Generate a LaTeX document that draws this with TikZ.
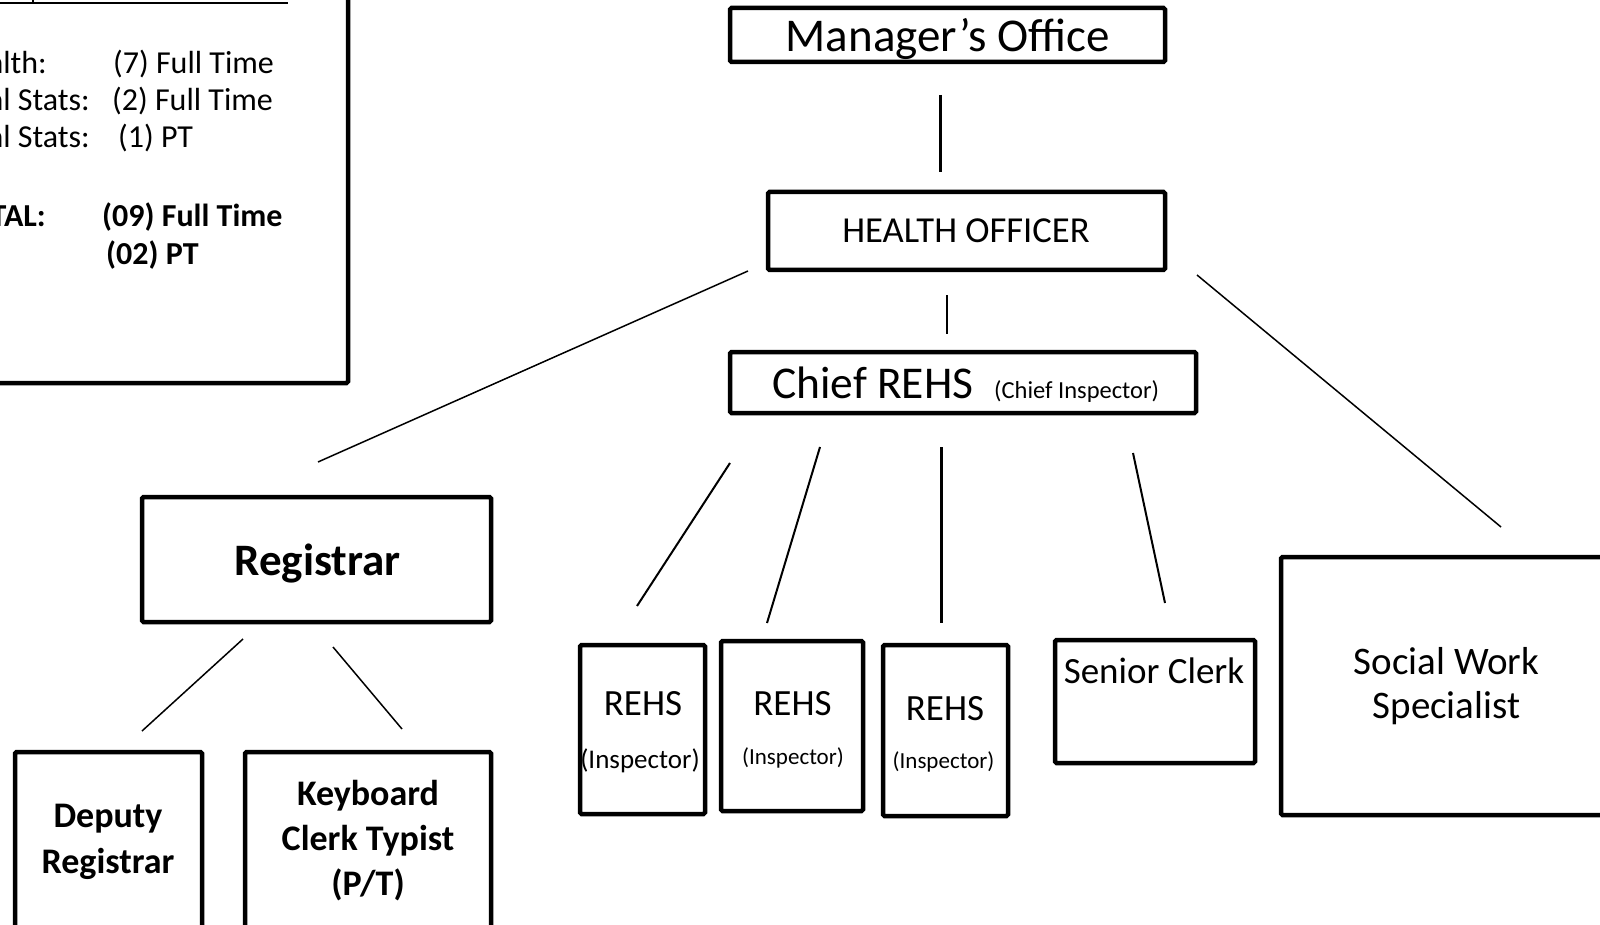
\documentclass[tikz,border=0pt]{standalone}
\usepackage{fontspec}
\setmainfont{Carlito}
\newcommand{\fsz}[1]{\fontsize{#1}{#1}\selectfont}
\begin{document}
\begin{tikzpicture}[x=1pt,y=-1pt,
  box/.style={draw, line width=4.5pt, rounded corners=1.5pt, inner sep=0pt},
  lbl/.style={anchor=base, inner sep=0pt},
  lblw/.style={anchor=base west, inner sep=0pt},
  lble/.style={anchor=base east, inner sep=0pt},
  thinconn/.style={line width=1.5pt},
  conn/.style={line width=2pt},
  thickconn/.style={line width=3pt}]
\useasboundingbox (0,0) rectangle (1600,925);
\clip (0,0) rectangle (1600,925);

% staffing summary panel
\node[box, minimum width=368pt, minimum height=403pt] (staff) at (164,181.5) {};
\coordinate (ul1) at (-10,3); \coordinate (ul2) at (288,3);
\coordinate (tk1) at (33,-2); \coordinate (tk2) at (33,4);
\draw[line width=2pt] (ul1) -- (ul2);
\draw[line width=1.5pt] (tk1) -- (tk2);
\node[lble, font=\fsz{32}] (s1a) at (47,74) {Health:};
\node[lblw, font=\fsz{32}] (s1b) at (113,74) {(7) Full Time};
\node[lble, font=\fsz{32}] (s2a) at (90,111) {Vital Stats:};
\node[lblw, font=\fsz{32}] (s2b) at (112,111) {(2) Full Time};
\node[lble, font=\fsz{32}] (s3a) at (90,148) {Vital Stats:};
\node[lblw, font=\fsz{32}] (s3b) at (118,148) {(1) PT};
\node[lble, font=\fsz{32}\bfseries] (s4a) at (46,227) {TOTAL:};
\node[lblw, font=\fsz{32}\bfseries] (s4b) at (102,227) {(09) Full Time};
\node[lblw, font=\fsz{32}\bfseries] (s5b) at (106,265) {(02) PT};

% management chain
\node[box, minimum width=435pt, minimum height=54pt] (man) at (947.5,35) {};
\node[lbl, font=\fsz{47}] (mant) at (947.5,52) {Manager’s Office};
\node[box, minimum width=397pt, minimum height=78pt] (health) at (966.5,231) {};
\node[lbl, font=\fsz{36.6}] (healtht) at (966,243) {HEALTH OFFICER};
\node[box, minimum width=466pt, minimum height=61pt] (chief) at (963,382.5) {};
\node[lblw, font=\fsz{45.5}] (chieft) at (772,398) {Chief REHS};
\node[lblw, font=\fsz{24.5}] (chiefs) at (994,398) {(Chief Inspector)};

% registrar branch
\node[box, minimum width=349pt, minimum height=125pt] (reg) at (316.5,559.5) {};
\node[lbl, font=\fsz{45}\bfseries] (regt) at (317.5,575) {Registrar};
\node[box, minimum width=187pt, minimum height=198pt] (dep) at (108.5,851) {};
\node[lbl, font=\fsz{36}\bfseries] (dep1) at (108,827) {Deputy};
\node[lbl, font=\fsz{36}\bfseries] (dep2) at (108,873) {Registrar};
\node[box, minimum width=246pt, minimum height=198pt] (kbd) at (368,851) {};
\node[lbl, font=\fsz{36}\bfseries] (kbd1) at (368,805) {Keyboard};
\node[lbl, font=\fsz{36}\bfseries] (kbd2) at (368,850) {Clerk Typist};
\node[lbl, font=\fsz{36}\bfseries] (kbd3) at (368,895) {(P/T)};

% inspectors
\node[box, minimum width=125pt, minimum height=169pt] (r1) at (642.5,729.5) {};
\node[lbl, font=\fsz{37}] (r1a) at (643,715) {REHS};
\node[lbl, font=\fsz{27}] (r1b) at (640,768) {(Inspector)};
\node[box, minimum width=142pt, minimum height=170pt] (r2) at (792,726) {};
\node[lbl, font=\fsz{37}] (r2a) at (792.5,715) {REHS};
\node[lbl, font=\fsz{23}] (r2b) at (793,764) {(Inspector)};
\node[box, minimum width=125pt, minimum height=171pt] (r3) at (945.5,730.5) {};
\node[lbl, font=\fsz{37}] (r3a) at (945,720) {REHS};
\node[lbl, font=\fsz{23}] (r3b) at (943.5,768) {(Inspector)};

% clerical and social work
\node[box, minimum width=200pt, minimum height=123pt] (senior) at (1155,701.5) {};
\node[lbl, font=\fsz{37}] (seniort) at (1154,683) {Senior Clerk};
\node[box, minimum width=359pt, minimum height=258pt] (social) at (1460.5,686) {};
\node[lbl, font=\fsz{39}] (social1) at (1446.5,674) {Social Work};
\node[lbl, font=\fsz{39}] (social2) at (1446.5,718) {Specialist};

% connector end points
\coordinate (mh1) at (940,95);   \coordinate (mh2) at (940,172);
\coordinate (hc1) at (947,295);  \coordinate (hc2) at (947,334);
\coordinate (hr1) at (748,271);  \coordinate (hr2) at (318,462);
\coordinate (hs1) at (1197,275); \coordinate (hs2) at (1501,527);
\coordinate (c11) at (730,463);  \coordinate (c12) at (637,606);
\coordinate (c21) at (820,447);  \coordinate (c22) at (767,623);
\coordinate (c31) at (941,447);  \coordinate (c32) at (941,623);
\coordinate (c41) at (1133,453); \coordinate (c42) at (1165,603);
\coordinate (rd1) at (243,639);  \coordinate (rd2) at (142,731);
\coordinate (rk1) at (333,647);  \coordinate (rk2) at (402,729);

\draw[thickconn] (mh1) -- (mh2);
\draw[conn] (hc1) -- (hc2);
\draw[thinconn] (hr1) -- (hr2);
\draw[thinconn] (hs1) -- (hs2);
\draw[conn] (c11) -- (c12);
\draw[conn] (c21) -- (c22);
\draw[thickconn] (c31) -- (c32);
\draw[conn] (c41) -- (c42);
\draw[thinconn] (rd1) -- (rd2);
\draw[thinconn] (rk1) -- (rk2);
\end{tikzpicture}
\end{document}
